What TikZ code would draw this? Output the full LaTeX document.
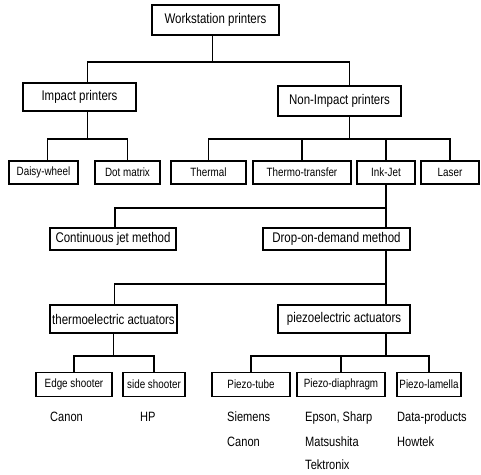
\documentclass[tikz,border=0pt]{standalone}
\usepackage{fontspec}
\setmainfont{Liberation Sans}[FakeStretch=0.82]
\usetikzlibrary{calc}
\tikzset{
  box/.style={draw, line width=1.7pt, inner sep=0pt, fill=white,
    font=\fontsize{14}{16}\selectfont},
  small/.style={box, font=\fontsize{12}{14}\selectfont},
  conn/.style={line width=1.4pt},
  maker/.style={anchor=mid west, inner sep=0pt,
    font=\fontsize{13.5}{16}\selectfont}
}

\begin{document}
\begin{tikzpicture}[x=1pt, y=-1pt]
  \useasboundingbox[fill=white] (0,0) rectangle (481,474);

  % Upper levels
  \node[box, minimum width=127, minimum height=30] (ws) at (215.5,20) {Workstation printers};
  \node[box, minimum width=113, minimum height=28] (impact) at (79.5,97) {Impact printers};
  \node[box, minimum width=123, minimum height=30] (nonimpact) at (339.5,101) {Non-Impact printers};

  % Printer types
  \foreach \name/\x/\w/\txt in {daisy/43.5/69/Daisy-wheel, dot/127.5/65/Dot matrix,
      thermal/208.5/75/Thermal, transfer/302/98/Thermo-transfer,
      inkjet/386/58/Ink-Jet, laser/450/58/Laser}
    \node[small, minimum width=\w, minimum height=23] (\name) at (\x,172.5) {\txt};

  % Ink-jet methods and actuators
  \node[box, minimum width=126, minimum height=22] (cont) at (113,239) {Continuous jet method};
  \node[box, minimum width=147, minimum height=22] (drop) at (336.5,239) {Drop-on-demand method};
  \node[box, minimum width=127, minimum height=28] (thermo) at (113.5,319) {thermoelectric actuators};
  \node[box, minimum width=132, minimum height=28] (piezo) at (344,319) {piezoelectric actuators};

  % Head designs
  \foreach \name/\x/\w/\txt in {edge/74/76/Edge shooter, side/154/62/side shooter,
      tube/251/78/Piezo-tube, diaphragm/341/88/Piezo-diaphragm,
      lamella/429/64/Piezo-lamella}
    \node[small, minimum width=\w, minimum height=24] (\name) at (\x,384.5) {\txt};

  % Makers
  \node[maker] (mcanon) at (50,419) {Canon};
  \node[maker] (mhp) at (140,419) {HP};
  \node[maker] (msiemens) at (227,419) {Siemens};
  \node[maker] (mcanonb) at (227,444) {Canon};
  \node[maker] (mepson) at (305,419) {Epson, Sharp};
  \node[maker] (mmatsu) at (305,444) {Matsushita};
  \node[maker] (mtek) at (305,467) {Tektronix};
  \node[maker] (mdata) at (397,419) {Data-products};
  \node[maker] (mhowtek) at (397,444) {Howtek};

  \draw[conn] ([xshift=-3]ws.south) -- ++(0,26) -| ([xshift=8]impact.north);
  \draw[conn] ([xshift=-3]ws.south) ++(0,26) -| ([xshift=10]nonimpact.north);

  \draw[conn] ([xshift=8]impact.south) -- ++(0,27) -| ([xshift=4]daisy.north);
  \draw[conn] ([xshift=8]impact.south) ++(0,27) -| (dot.north);
  \foreach \n in {thermal, transfer, inkjet, laser}
    \draw[conn] ([xshift=10]nonimpact.south) -- ++(0,22) -| (\n.north);

  \draw[conn] (inkjet.south) -- ++(0,23) -| ([xshift=2]cont.north);
  \draw[conn] (inkjet.south) -- (inkjet.south |- drop.north);
  \draw[conn] (inkjet.south |- drop.south) -- ++(0,33) -| ([xshift=1]thermo.north);
  \draw[conn] (inkjet.south |- drop.south) -- (inkjet.south |- piezo.north);

  \draw[conn] (thermo.south) -- ++(0,22) -| (edge.north);
  \draw[conn] (thermo.south) ++(0,22) -| (side.north);
  \foreach \n in {tube, diaphragm, lamella}
    \draw[conn] (inkjet.south |- piezo.south) -- ++(0,22) -| (\n.north);
\end{tikzpicture}
\end{document}
